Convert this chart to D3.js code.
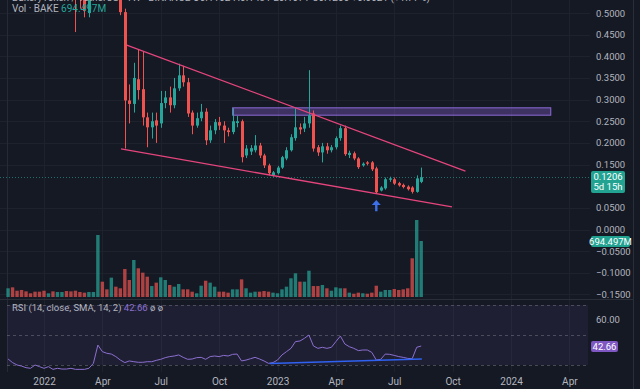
<!DOCTYPE html>
<html>
<head>
<meta charset="utf-8">
<script src="https://cdn.jsdelivr.net/npm/d3@7"></script>
<style>
  body { margin: 0; background: #151924; overflow: hidden; }
  svg { display: block; font-family: Roboto, "Liberation Sans", sans-serif; }
</style>
</head>
<body>
<div id="chart"></div>
<script>
var width = 640, height = 389

// weekly candles, first week starts 2021-11-08
var firstWeek = new Date(2021, 10, 8)

var open = [2.40, 2.95, 2.45, 2.05, 1.70, 1.45, 1.32, 1.15, 1.08, 0.86,
  0.92, 0.78, 0.82, 0.85, 0.73, 0.66, 0.60, 0.56, 0.50, 0.58,
  0.62, 0.88, 0.74, 0.70, 0.76, 0.62, 0.502, 0.298, 0.290, 0.347,
  0.324, 0.259, 0.236, 0.252, 0.245, 0.292, 0.305, 0.287, 0.326, 0.356,
  0.340, 0.270, 0.240, 0.257, 0.272, 0.206, 0.229, 0.248, 0.240, 0.229,
  0.225, 0.246, 0.250, 0.171, 0.180, 0.183, 0.194, 0.171, 0.148, 0.125,
  0.130, 0.143, 0.164, 0.183, 0.211, 0.236, 0.233, 0.245, 0.268, 0.190,
  0.178, 0.192, 0.183, 0.190, 0.211, 0.234, 0.172, 0.176, 0.164, 0.148,
  0.155, 0.155, 0.141, 0.090, 0.095, 0.115, 0.116, 0.107, 0.103, 0.099,
  0.097, 0.087, 0.110]
var high = [3.30, 3.05, 2.55, 2.20, 1.85, 1.55, 1.40, 1.25, 1.12, 0.98,
  0.95, 0.86, 0.90, 0.87, 0.76, 0.70, 0.63, 0.58, 0.60, 0.64,
  1.05, 0.92, 0.78, 0.82, 0.78, 0.64, 0.510, 0.335, 0.385, 0.415,
  0.410, 0.270, 0.270, 0.270, 0.320, 0.320, 0.330, 0.350, 0.383, 0.378,
  0.350, 0.275, 0.270, 0.290, 0.280, 0.240, 0.255, 0.260, 0.250, 0.235,
  0.280, 0.262, 0.254, 0.195, 0.195, 0.218, 0.200, 0.175, 0.152, 0.135,
  0.147, 0.170, 0.190, 0.220, 0.280, 0.245, 0.260, 0.368, 0.275, 0.195,
  0.200, 0.200, 0.195, 0.215, 0.240, 0.240, 0.182, 0.180, 0.167, 0.155,
  0.158, 0.158, 0.145, 0.100, 0.120, 0.122, 0.120, 0.110, 0.106, 0.102,
  0.100, 0.125, 0.143]
var low = [2.30, 2.30, 1.90, 1.55, 1.30, 1.25, 1.05, 1.00, 0.80, 0.83,
  0.74, 0.75, 0.78, 0.70, 0.62, 0.456, 0.51, 0.49, 0.49, 0.56,
  0.60, 0.70, 0.68, 0.66, 0.60, 0.495, 0.187, 0.245, 0.270, 0.300,
  0.240, 0.190, 0.210, 0.200, 0.235, 0.280, 0.270, 0.280, 0.320, 0.330,
  0.260, 0.220, 0.235, 0.250, 0.195, 0.200, 0.220, 0.230, 0.200, 0.215,
  0.220, 0.236, 0.155, 0.165, 0.172, 0.178, 0.165, 0.142, 0.125, 0.122,
  0.127, 0.140, 0.160, 0.180, 0.205, 0.220, 0.225, 0.235, 0.180, 0.170,
  0.155, 0.175, 0.178, 0.185, 0.205, 0.170, 0.165, 0.160, 0.140, 0.145,
  0.148, 0.135, 0.083, 0.088, 0.092, 0.110, 0.103, 0.099, 0.095, 0.090,
  0.083, 0.085, 0.107]
var close = [2.95, 2.45, 2.05, 1.70, 1.45, 1.32, 1.15, 1.08, 0.86, 0.92,
  0.78, 0.82, 0.85, 0.73, 0.66, 0.60, 0.56, 0.505, 0.58, 0.62,
  0.88, 0.74, 0.70, 0.76, 0.62, 0.502, 0.298, 0.290, 0.350, 0.322,
  0.259, 0.236, 0.250, 0.240, 0.292, 0.305, 0.287, 0.326, 0.356, 0.340,
  0.268, 0.240, 0.257, 0.272, 0.206, 0.229, 0.248, 0.240, 0.229, 0.225,
  0.250, 0.250, 0.167, 0.187, 0.188, 0.194, 0.171, 0.148, 0.130, 0.132,
  0.143, 0.167, 0.183, 0.213, 0.236, 0.231, 0.245, 0.264, 0.187, 0.178,
  0.192, 0.183, 0.190, 0.211, 0.234, 0.174, 0.177, 0.164, 0.144, 0.152,
  0.152, 0.139, 0.086, 0.097, 0.116, 0.118, 0.106, 0.102, 0.098, 0.093,
  0.087, 0.118, 0.1206]
// volume in millions
var volume = [108, 120, 78, 87, 70, 46, 66, 66, 78, 46,
  70, 62, 62, 74, 70, 78, 62, 54, 62, 62,
  769, 190, 95, 240, 128, 108, 347, 211, 459, 356,
  302, 252, 136, 178, 244, 211, 149, 128, 161, 95,
  95, 66, 46, 140, 202, 178, 128, 66, 66, 54,
  95, 95, 219, 108, 54, 66, 66, 74, 66, 54,
  46, 95, 128, 232, 294, 190, 190, 326, 136, 136,
  149, 108, 78, 120, 108, 108, 54, 41, 54, 46,
  41, 54, 140, 66, 87, 87, 99, 87, 95, 108,
  480, 955, 694.497]
var rsi = [34.0, 31.6, 30.0, 29.3, 28.2, 27.8, 30.0, 28.9, 27.8, 28.9,
  27.1, 27.8, 27.3, 27.3, 27.8, 27.1, 27.1, 27.1, 27.8, 31.1,
  43.3, 38.9, 37.8, 37.3, 35.6, 33.3, 31.6, 32.7, 32.2, 31.8,
  31.8, 32.2, 32.2, 33.1, 33.8, 34.9, 35.6, 36.0, 36.7, 35.1,
  33.8, 34.0, 34.9, 35.1, 33.8, 35.6, 36.0, 35.6, 36.4, 36.0,
  37.1, 37.3, 32.7, 33.3, 34.2, 35.1, 34.0, 32.7, 31.1, 31.6,
  33.3, 36.7, 38.9, 41.1, 45.6, 46.0, 47.8, 50.0, 42.7, 41.1,
  41.8, 41.1, 41.8, 45.6, 49.3, 44.0, 42.2, 41.1, 39.6, 40.0,
  40.0, 38.4, 33.3, 33.8, 37.3, 37.1, 36.4, 35.6, 35.1, 34.4,
  34.2, 41.8, 42.66]

var priceTicks = [0.5, 0.45, 0.4, 0.35, 0.3, 0.25, 0.2, 0.15, 0.05, 0, -0.05, -0.1, -0.15]
var timeTicks = [new Date(2022, 0, 3), new Date(2022, 3, 4), new Date(2022, 6, 4), new Date(2022, 9, 3),
  new Date(2023, 0, 2), new Date(2023, 3, 3), new Date(2023, 6, 3), new Date(2023, 9, 2),
  new Date(2024, 0, 1), new Date(2024, 3, 1)]
var timeLabels = ["2022", "Apr", "Jul", "Oct", "2023", "Apr", "Jul", "Oct", "2024", "Apr"]

// drawings on the chart
var upperLine = [{date: new Date(2022, 4, 12), price: 0.426}, {date: new Date(2023, 9, 22), price: 0.135}]
var lowerLine = [{date: new Date(2022, 4, 3), price: 0.186}, {date: new Date(2023, 9, 1), price: 0.052}]
var zoneBox = {from: new Date(2022, 9, 24), to: new Date(2024, 2, 3), top: 0.281, bottom: 0.264}
var arrowMark = {date: new Date(2023, 5, 5), tip: 0.068, tail: 0.042}
var rsiLine = [{date: new Date(2022, 11, 21), value: 31}, {date: new Date(2023, 7, 15), value: 34}]
var lastPrice = 0.1206, lastVolume = 694.497, lastRsi = 42.66

var upColor = "#26a69a", downColor = "#ef5350", textColor = "#b2b5be"

var candles = open.map(function(o, i) {
  return {date: d3.timeWeek.offset(firstWeek, i), open: o, high: high[i], low: low[i], close: close[i], volume: volume[i], rsi: rsi[i]}
})

var svg = d3.select("#chart")
  .append("svg")
  .attr("width", width)
  .attr("height", height)

svg.append("rect").attr("width", width).attr("height", height).attr("fill", "#151924")

// scales
var xScale = d3.scaleTime()
  .domain([new Date(2022, 0, 3), new Date(2024, 0, 1)])
  .range([44, 511])
var yScale = d3.scaleLinear().domain([0, 0.5]).range([229.5, 13])
var vScale = d3.scaleLinear().domain([0, 955]).range([297, 220])
var rScale = d3.scaleLinear().domain([30, 70]).range([365, 305])

svg.append("defs").append("clipPath").attr("id", "main-clip")
  .append("rect").attr("x", 0).attr("y", 0).attr("width", 590).attr("height", 299)

// grid
svg.append("g").selectAll("line")
  .data(priceTicks)
  .enter().append("line")
  .attr("x1", 0).attr("x2", 590)
  .attr("y1", function(d) { return Math.round(yScale(d)) + 0.5 })
  .attr("y2", function(d) { return Math.round(yScale(d)) + 0.5 })
  .attr("stroke", "#1e222d")

svg.append("g").selectAll("line")
  .data(timeTicks)
  .enter().append("line")
  .attr("x1", function(d) { return Math.round(xScale(d)) + 0.5 })
  .attr("x2", function(d) { return Math.round(xScale(d)) + 0.5 })
  .attr("y1", 0).attr("y2", 372)
  .attr("stroke", "#1e222d")

svg.append("line").attr("x1", 7.5).attr("x2", 7.5).attr("y1", 0).attr("y2", 372).attr("stroke", "#262a36")

// pane separators
svg.append("line").attr("x1", 0).attr("x2", 633).attr("y1", 299.5).attr("y2", 299.5).attr("stroke", "#2a2e39")
svg.append("line").attr("x1", 633.5).attr("x2", 633.5).attr("y1", 0).attr("y2", height).attr("stroke", "#2a2e39")

var main = svg.append("g").attr("clip-path", "url(#main-clip)")

// volume bars
main.selectAll(".vol")
  .data(candles)
  .enter().append("rect")
  .attr("class", "vol")
  .attr("x", function(d) { return xScale(d.date) - 1.7 })
  .attr("width", 3.4)
  .attr("y", function(d) { return vScale(d.volume) })
  .attr("height", function(d) { return vScale(0) - vScale(d.volume) })
  .attr("fill", function(d) { return d.close >= d.open ? upColor : downColor })
  .attr("opacity", 0.7)

// zone rectangle
main.append("rect")
  .attr("x", xScale(zoneBox.from))
  .attr("width", xScale(zoneBox.to) - xScale(zoneBox.from))
  .attr("y", yScale(zoneBox.top))
  .attr("height", yScale(zoneBox.bottom) - yScale(zoneBox.top))
  .attr("fill", "rgba(126,87,194,0.4)")
  .attr("stroke", "#8e6ad8")
  .attr("stroke-width", 1)

// last price line
main.append("line")
  .attr("x1", 0).attr("x2", 590)
  .attr("y1", Math.round(yScale(lastPrice)) + 0.5)
  .attr("y2", Math.round(yScale(lastPrice)) + 0.5)
  .attr("stroke", upColor)
  .attr("stroke-dasharray", "1,2")
  .attr("opacity", 0.6)

// candles
var candle = main.selectAll(".candle")
  .data(candles)
  .enter().append("g")
  .attr("class", "candle")

candle.append("line")
  .attr("x1", function(d) { return Math.round(xScale(d.date)) + 0.5 })
  .attr("x2", function(d) { return Math.round(xScale(d.date)) + 0.5 })
  .attr("y1", function(d) { return yScale(d.high) })
  .attr("y2", function(d) { return yScale(d.low) })
  .attr("stroke", function(d) { return d.close >= d.open ? upColor : downColor })

candle.append("rect")
  .attr("x", function(d) { return Math.round(xScale(d.date)) - 1 })
  .attr("width", 3)
  .attr("y", function(d) { return yScale(Math.max(d.open, d.close)) })
  .attr("height", function(d) { return Math.max(1, Math.abs(yScale(d.open) - yScale(d.close))) })
  .attr("fill", function(d) { return d.close >= d.open ? upColor : downColor })

// trend lines
var trend = d3.line()
  .x(function(d) { return xScale(d.date) })
  .y(function(d) { return yScale(d.price) })

;[upperLine, lowerLine].forEach(function(l) {
  main.append("path")
    .attr("d", trend(l))
    .attr("fill", "none")
    .attr("stroke", "#e5457c")
    .attr("stroke-width", 1.3)
})

// arrow mark
var ax = xScale(arrowMark.date), ayTip = yScale(arrowMark.tip), ayTail = yScale(arrowMark.tail)
main.append("path")
  .attr("d", "M" + ax + "," + ayTip + " L" + (ax + 4.5) + "," + (ayTip + 5) + " L" + (ax + 1.2) + "," + (ayTip + 5) +
    " L" + (ax + 1.2) + "," + ayTail + " L" + (ax - 1.2) + "," + ayTail + " L" + (ax - 1.2) + "," + (ayTip + 5) +
    " L" + (ax - 4.5) + "," + (ayTip + 5) + "Z")
  .attr("fill", "#3d6fe8")

// RSI pane
svg.append("rect")
  .attr("x", 7).attr("width", 581)
  .attr("y", rScale(70)).attr("height", rScale(30) - rScale(70))
  .attr("fill", "rgba(126,87,194,0.1)")

svg.append("g").selectAll("line")
  .data([70, 50, 30])
  .enter().append("line")
  .attr("x1", 7).attr("x2", 588)
  .attr("y1", function(d) { return Math.round(rScale(d)) + 0.5 })
  .attr("y2", function(d) { return Math.round(rScale(d)) + 0.5 })
  .attr("stroke", "#787b86")
  .attr("stroke-opacity", 0.5)
  .attr("stroke-dasharray", "3,3")

svg.append("path")
  .datum(candles)
  .attr("d", d3.line()
    .x(function(d) { return xScale(d.date) })
    .y(function(d) { return rScale(d.rsi) }))
  .attr("fill", "none")
  .attr("stroke", "#8b6fd0")
  .attr("stroke-width", 1)

svg.append("path")
  .attr("d", d3.line()
    .x(function(d) { return xScale(d.date) })
    .y(function(d) { return rScale(d.value) })(rsiLine))
  .attr("stroke", "#2f62f0")
  .attr("stroke-width", 1.5)

// price axis
var yAxis = d3.axisRight(yScale)
  .tickValues(priceTicks.filter(function(d) { return d !== 0.1 }))
  .tickFormat(d3.format(".4f"))
  .tickSize(0)
  .tickPadding(0)

svg.append("g")
  .attr("transform", "translate(596,0)")
  .call(yAxis)
  .call(function(g) { g.select(".domain").remove() })
  .selectAll("text")
  .attr("fill", textColor)
  .attr("font-size", "9.5px")
  .attr("font-family", "Roboto, sans-serif")

// rsi axis label
svg.append("text")
  .attr("x", 596).attr("y", rScale(60)).attr("dy", "0.32em")
  .attr("fill", textColor).attr("font-size", "9.5px")
  .text("60.00")

// time axis
var xAxis = d3.axisBottom(xScale)
  .tickValues(timeTicks)
  .tickFormat(function(d, i) { return timeLabels[i] })
  .tickSize(0)
  .tickPadding(0)

svg.append("g")
  .attr("transform", "translate(0,378)")
  .call(xAxis)
  .call(function(g) { g.select(".domain").remove() })
  .selectAll("text")
  .attr("fill", textColor)
  .attr("font-size", "10px")
  .attr("font-family", "Roboto, sans-serif")

// last value labels on the right axis
function axisTag(y, h, fill, lines, w) {
  var g = svg.append("g")
  g.append("rect")
    .attr("x", 591).attr("y", y).attr("width", w).attr("height", h)
    .attr("rx", 2).attr("fill", fill)
  lines.forEach(function(t, i) {
    g.append("text")
      .attr("x", 591 + w / 2).attr("y", y + 8.5 + i * 10)
      .attr("text-anchor", "middle")
      .attr("fill", "#ffffff").attr("font-size", "9.5px")
      .text(t)
  })
}
axisTag(Math.round(yScale(lastPrice)) - 6, 22, "#22a392", [d3.format(".4f")(lastPrice), "5d 15h"], 34)
axisTag(Math.round(vScale(lastVolume)) - 5, 11, "#22a392", ["694.497M"], 39)
axisTag(Math.round(rScale(lastRsi)) - 5, 11, "#7e57c2", [d3.format(".2f")(lastRsi)], 27)

// legends
svg.append("text")
  .attr("x", 12).attr("y", 1)
  .attr("fill", textColor).attr("font-size", "10px")
  .text("BakeryToken / TetherUS · 1W · BINANCE   O0.1102 H0.1431 L0.1071 C0.1206 +0.0021 (+1.77%)")

var volLegend = svg.append("text").attr("x", 12).attr("y", 12).attr("font-size", "10px")
volLegend.append("tspan").attr("fill", textColor).text("Vol · BAKE ")
volLegend.append("tspan").attr("fill", upColor).text("694.497M")

var rsiLegend = svg.append("text").attr("x", 12).attr("y", 311).attr("font-size", "9.5px")
rsiLegend.append("tspan").attr("fill", textColor).text("RSI (14, close, SMA, 14, 2) ")
rsiLegend.append("tspan").attr("fill", "#8b6fd0").text("42.66 ")
rsiLegend.append("tspan").attr("fill", textColor).text(" ø  ø")
</script>
</body>
</html>
